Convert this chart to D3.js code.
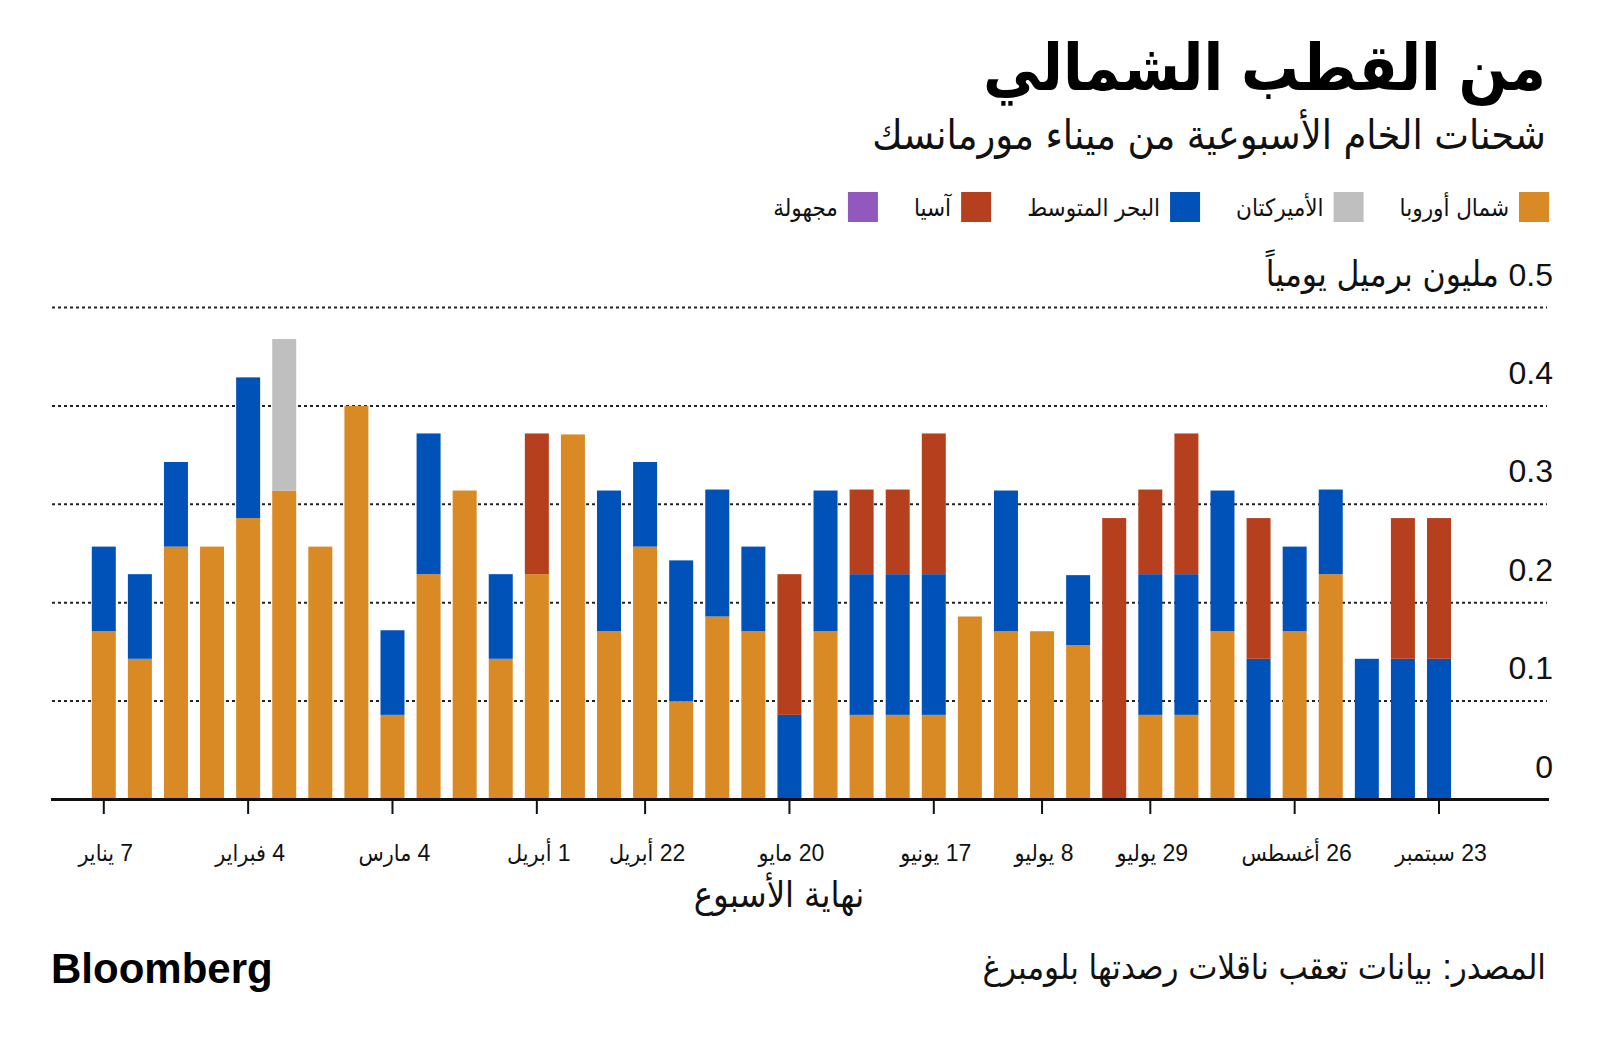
<!DOCTYPE html>
<html lang="ar">
<head>
<meta charset="utf-8">
<script src="https://cdn.jsdelivr.net/npm/d3@7"></script>
<style>
  html, body { margin: 0; padding: 0; background: #fff; }
  svg { display: block; }
  .ar { font-family: "Liberation Sans", "DejaVu Sans Condensed", "DejaVu Sans", sans-serif; }
</style>
</head>
<body>
<svg id="chart" width="1600" height="1050"></svg>
<script>
// ---------- DATA ----------
const weeks = [
  "7 يناير","14 يناير","21 يناير","28 يناير",
  "4 فبراير","11 فبراير","18 فبراير","25 فبراير",
  "4 مارس","11 مارس","18 مارس","25 مارس",
  "1 أبريل","8 أبريل","15 أبريل","22 أبريل","29 أبريل",
  "6 مايو","13 مايو","20 مايو","27 مايو",
  "3 يونيو","10 يونيو","17 يونيو","24 يونيو",
  "1 يوليو","8 يوليو","15 يوليو","22 يوليو","29 يوليو",
  "5 أغسطس","12 أغسطس","19 أغسطس","26 أغسطس",
  "2 سبتمبر","9 سبتمبر","16 سبتمبر","23 سبتمبر"
];
const tickWeeks = ["7 يناير","4 فبراير","4 مارس","1 أبريل","22 أبريل","20 مايو","17 يونيو","8 يوليو","29 يوليو","26 أغسطس","23 سبتمبر"];

const seriesKeys   = ["northEurope","americas","mediterranean","asia","unknown"];
const seriesNames  = ["شمال أوروبا","الأميركتان","البحر المتوسط","آسيا","مجهولة"];
const seriesColors = ["#DA8A24","#BFBFBF","#0052B9","#B6401E","#9258BE"];

const northEurope   = [0.171,0.143,0.257,0.257,0.286,0.314,0.257,0.400,0.086,0.229,0.314,0.143,0.229,0.371,0.171,0.257,0.100,0.186,0.171,0,
                       0.171,0.086,0.086,0.086,0.186,0.171,0.171,0.157,0,0.086,0.086,0.171,0,0.171,0.229,0,0,0];
const americas      = [0,0,0,0,0,0.154,0,0,0,0,0,0,0,0,0,0,0,0,0,0,
                       0,0,0,0,0,0,0,0,0,0,0,0,0,0,0,0,0,0];
const mediterranean = [0.086,0.086,0.086,0,0.143,0,0,0,0.086,0.143,0,0.086,0,0,0.143,0.086,0.143,0.129,0.086,0.086,
                       0.143,0.143,0.143,0.143,0,0.143,0,0.071,0,0.143,0.143,0.143,0.143,0.086,0.086,0.143,0.143,0.143];
const asia          = [0,0,0,0,0,0,0,0,0,0,0,0,0.143,0,0,0,0,0,0,0.143,
                       0,0.086,0.086,0.143,0,0,0,0,0.286,0.086,0.143,0,0.143,0,0,0,0.143,0.143];
const unknown       = new Array(38).fill(0);

const yTicks = [0, 0.1, 0.2, 0.3, 0.4, 0.5];
const yUnit  = "مليون برميل يومياً";

const titleText    = "من القطب الشمالي";
const subtitleText = "شحنات الخام الأسبوعية من ميناء مورمانسك";
const xTitleText   = "نهاية الأسبوع";
const sourceText   = "المصدر: بيانات تعقب ناقلات رصدتها بلومبرغ";

// ---------- BUILD ----------
const seriesData = { northEurope, americas, mediterranean, asia, unknown };
const table = weeks.map((w, i) => {
  const row = { week: w };
  seriesKeys.forEach(k => row[k] = seriesData[k][i]);
  return row;
});

const svg = d3.select("#chart");

const x = d3.scaleBand().domain(weeks).range([85.75, 1457.05]).paddingInner(0.335).paddingOuter(0.1675);
const y = d3.scaleLinear().domain([0, 0.5]).range([799.5, 307.5]);
const color = d3.scaleOrdinal().domain(seriesKeys).range(seriesColors);

// gridlines
svg.append("g").selectAll("line").data(yTicks.filter(d => d > 0)).join("line")
  .attr("x1", 52).attr("x2", 1547)
  .attr("y1", d => y(d)).attr("y2", d => y(d))
  .attr("stroke", "#222").attr("stroke-width", 2).attr("stroke-dasharray", "3,3");

// y labels
const yl = svg.append("g").selectAll("text").data(yTicks).join("text")
  .attr("class", "ar")
  .attr("x", 1553).attr("y", d => y(d) - 22)
  .attr("direction", "rtl")
  .attr("text-anchor", "start")
  .style("font-size", "32px").attr("fill", "#111");
yl.append("tspan").text(d => d === 0 ? "0" : d3.format(".1f")(d));
yl.filter(d => d === 0.5).append("tspan").style("font-size", "35px").text(" " + yUnit);

// bars
const stack = d3.stack().keys(seriesKeys);
const stacked = stack(table);
svg.append("g").selectAll("g").data(stacked).join("g")
  .attr("fill", d => color(d.key))
  .selectAll("rect").data(d => d).join("rect")
  .attr("x", d => x(d.data.week))
  .attr("width", x.bandwidth())
  .attr("y", d => y(d[1]))
  .attr("height", d => Math.max(0, y(d[0]) - y(d[1])));

// x axis line
svg.append("line").attr("x1", 51).attr("x2", 1549).attr("y1", 799.5).attr("y2", 799.5)
  .attr("stroke", "#111").attr("stroke-width", 3);

// ticks
const tg = svg.append("g").selectAll("g").data(tickWeeks).join("g")
  .attr("transform", d => `translate(${x(d) + x.bandwidth() / 2},0)`);
tg.append("line").attr("y1", 800).attr("y2", 814).attr("stroke", "#111").attr("stroke-width", 2);
tg.append("text").attr("class", "ar").attr("y", 861).attr("x", 2)
  .attr("direction", "rtl").attr("text-anchor", "middle")
  .style("font-size", "23px").attr("fill", "#111").text(d => d);

// x title
svg.append("text").attr("class", "ar").attr("x", 779).attr("y", 907)
  .attr("direction", "rtl").attr("text-anchor", "middle")
  .style("font-size", "36px").attr("fill", "#111").text(xTitleText);

// title
svg.append("text").attr("class", "ar").attr("x", 1546).attr("y", 90)
  .attr("direction", "rtl").attr("text-anchor", "start")
  .style("font-size", "64px").style("font-weight", "bold").attr("fill", "#000").text(titleText);

// subtitle
svg.append("text").attr("class", "ar").attr("x", 1546).attr("y", 149)
  .attr("direction", "rtl").attr("text-anchor", "start")
  .style("font-size", "41px").attr("fill", "#111").text(subtitleText);

// legend
const lg = svg.append("g");
let cursor = 1549;
seriesKeys.forEach((k, i) => {
  lg.append("rect").attr("x", cursor - 30).attr("y", 192).attr("width", 30).attr("height", 30).attr("fill", color(k));
  const t = lg.append("text").attr("class", "ar").attr("x", cursor - 40).attr("y", 216)
    .attr("direction", "rtl").attr("text-anchor", "start")
    .style("font-size", "24px").attr("fill", "#111").text(seriesNames[i]);
  const w = t.node().getComputedTextLength();
  cursor = cursor - 40 - w - 36;
});

// source
svg.append("text").attr("class", "ar").attr("x", 1546).attr("y", 979)
  .attr("direction", "rtl").attr("text-anchor", "start")
  .style("font-size", "34.5px").attr("fill", "#111").text(sourceText);

// logo
svg.append("text").attr("x", 51).attr("y", 983)
  .style("font-family", "'Liberation Sans', Arial, sans-serif")
  .style("font-size", "42px").style("font-weight", "bold")
  .attr("fill", "#000").text("Bloomberg");
</script>
</body>
</html>
